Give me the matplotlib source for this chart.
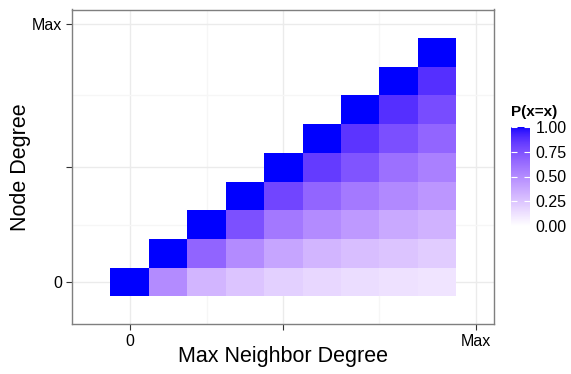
import numpy as np
import matplotlib
matplotlib.use('Agg')
import matplotlib.pyplot as plt
from matplotlib.colors import ListedColormap

plt.rcParams['font.family'] = ['Liberation Sans', 'DejaVu Sans']

# P(x=x) por grau do no (linha) e grau maximo do vizinho (coluna), a partir da diagonal
node_degree = list(range(9))
prob_rows = [
    [1.00, 0.50, 0.32, 0.25, 0.20, 0.17, 0.145, 0.13, 0.115],
    [1.00, 0.67, 0.50, 0.39, 0.32, 0.28, 0.25, 0.22],
    [1.00, 0.755, 0.585, 0.50, 0.44, 0.37, 0.33],
    [1.00, 0.80, 0.665, 0.58, 0.51, 0.45],
    [1.00, 0.84, 0.74, 0.62, 0.55],
    [1.00, 0.865, 0.76, 0.665],
    [1.00, 0.885, 0.77],
    [1.00, 0.885],
    [1.00],
]
tick_pos = [0, 4, 9]
tick_labels = ['0', '', 'Max']
minor_pos = [2, 6.5]
legend_ticks = [0.0, 0.25, 0.5, 0.75, 1.0]


def srgb_to_lab(rgb):
    rgb = np.asarray(rgb, float)
    lin = np.where(rgb <= 0.04045, rgb / 12.92, ((rgb + 0.055) / 1.055) ** 2.4)
    m = np.array([[0.4124, 0.3576, 0.1805],
                  [0.2126, 0.7152, 0.0722],
                  [0.0193, 0.1192, 0.9505]])
    xyz = m @ lin / np.array([0.95047, 1.0, 1.08883])
    f = np.where(xyz > 0.008856, np.cbrt(xyz), 7.787 * xyz + 16 / 116)
    return np.array([116 * f[1] - 16, 500 * (f[0] - f[1]), 200 * (f[1] - f[2])])


def lab_to_srgb(lab):
    L, a, b = lab
    fy = (L + 16) / 116
    fx = fy + a / 500
    fz = fy - b / 200
    f = np.array([fx, fy, fz])
    xyz = np.where(f ** 3 > 0.008856, f ** 3, (f - 16 / 116) / 7.787)
    xyz = xyz * np.array([0.95047, 1.0, 1.08883])
    m = np.array([[3.2406, -1.5372, -0.4986],
                  [-0.9689, 1.8758, 0.0415],
                  [0.0557, -0.2040, 1.0570]])
    lin = np.clip(m @ xyz, 0, 1)
    rgb = np.where(lin <= 0.0031308, 12.92 * lin, 1.055 * lin ** (1 / 2.4) - 0.055)
    return np.clip(rgb, 0, 1)


# gradiente branco -> azul interpolado em Lab
lab_lo = srgb_to_lab([1, 1, 1])
lab_hi = srgb_to_lab([0, 0, 1])
ramp = [lab_to_srgb(lab_lo + t * (lab_hi - lab_lo)) for t in np.linspace(0, 1, 256)]
cmap = ListedColormap(ramp)

n = len(node_degree)
grid = np.full((n, n), np.nan)
for j, row in enumerate(prob_rows):
    for k, v in enumerate(row):
        grid[j, j + k] = v
grid = np.ma.masked_invalid(grid)

fig = plt.figure(figsize=(5.71, 3.74), dpi=100)
ax = fig.add_axes([72 / 571, 1 - 324 / 374, 422 / 571, 314.5 / 374])

edges = np.arange(n + 1) - 0.5
mesh = ax.pcolormesh(edges, edges, grid, cmap=cmap, vmin=0, vmax=1, zorder=2)

ax.set_xlim(-1.5, 9.48)
ax.set_ylim(-1.46, 9.49)
ax.set_xticks(tick_pos)
ax.set_xticklabels(tick_labels)
ax.set_yticks(tick_pos)
ax.set_yticklabels(tick_labels)
ax.set_xticks(minor_pos, minor=True)
ax.set_yticks(minor_pos, minor=True)
ax.grid(which='major', color='#EBEBEB', lw=1.0, zorder=0)
ax.grid(which='minor', color='#F6F6F6', lw=1.0, zorder=0)
ax.set_axisbelow(True)
ax.tick_params(which='major', length=4, width=0.8, color='#333333',
               labelsize=11.5, labelcolor='black', pad=3)
ax.tick_params(which='minor', length=0)
for s in ax.spines.values():
    s.set_color('#7F7F7F')
    s.set_linewidth(1.0)

ax.set_xlabel('Max Neighbor Degree', fontsize=15.5)
ax.set_ylabel('Node Degree', fontsize=15.5)
ax.xaxis.set_label_coords(0.5, -0.102)
ax.yaxis.set_label_coords(-0.123, 0.5)
ax.xaxis.label.set_va('center')
ax.yaxis.label.set_va('center')

# legenda de cor
cax = fig.add_axes([511 / 571, 1 - 226 / 374, 19 / 571, 99 / 374])
cb = fig.colorbar(mesh, cax=cax, ticks=legend_ticks)
cb.outline.set_visible(False)
cb.ax.set_yticklabels(['%.2f' % t for t in legend_ticks])
cax.tick_params(direction='in', color='white', length=4, width=0.8,
                left=True, right=True, labelsize=11.5, pad=4)
fig.text(511 / 571, 1 - 112 / 374, 'P(x=x)', fontsize=11, fontweight='bold',
         ha='left', va='center')

fig.savefig('out.png', dpi=100)
